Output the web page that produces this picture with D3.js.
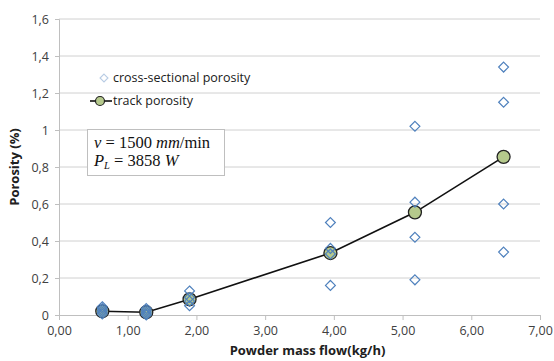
<!DOCTYPE html>
<html>
<head>
<meta charset="utf-8">
<script src="https://cdn.jsdelivr.net/npm/d3@7"></script>
<style>
  body { margin: 0; background: #fff; }
  svg { display: block; }
  .tick text { font-family: "Open Sans", sans-serif; font-size: 12.5px; fill: #404040; }
</style>
</head>
<body>
<div id="chart"></div>
<script>
// track porosity (mean per powder mass flow)
const flowRates = [0.63, 1.27, 1.90, 3.95, 5.18, 6.47];
const trackPorosity = [0.02, 0.015, 0.085, 0.335, 0.555, 0.855];

// cross-sectional porosity measurements, one list per flow rate
const crossPorosity = [
  [0.045, 0.035, 0.025, 0.015, 0.005],
  [0.035, 0.025, 0.015, 0.005, 0.0],
  [0.13, 0.095, 0.075, 0.05],
  [0.50, 0.36, 0.33, 0.16],
  [1.02, 0.61, 0.42, 0.19],
  [1.34, 1.15, 0.60, 0.34]
];

const yTicks = [0, 0.2, 0.4, 0.6, 0.8, 1, 1.2, 1.4, 1.6];
const xTicks = [0, 1, 2, 3, 4, 5, 6, 7];

const width = 554, height = 361;
const margin = { left: 59, right: 14, top: 19, bottom: 46 };

const svg = d3.select('#chart').append('svg')
  .attr('width', width)
  .attr('height', height);

const x = d3.scaleLinear().domain([0, 7]).range([margin.left, width - margin.right]);
const y = d3.scaleLinear().domain([0, 1.6]).range([height - margin.bottom, margin.top]);

const fmt = d => d3.format('.2f')(d).replace('.', ',');
const fmtY = d => (d === 1 ? '1' : d === 0 ? '0' : d3.format('.1f')(d).replace('.', ','));

// horizontal gridlines
svg.append('g')
  .selectAll('line')
  .data(yTicks.filter(d => d > 0))
  .join('line')
  .attr('x1', x(0)).attr('x2', x(7))
  .attr('y1', d => y(d)).attr('y2', d => y(d))
  .attr('stroke', '#d0d0d0')
  .attr('stroke-width', 1);

// y axis
const yAxis = svg.append('g')
  .attr('transform', `translate(${x(0)},0)`)
  .call(d3.axisLeft(y).tickValues(yTicks).tickFormat(fmtY).tickSize(4).tickPadding(6));
yAxis.select('.domain').attr('stroke', '#bfbfbf');
yAxis.selectAll('.tick line').attr('stroke', '#bfbfbf');

// x axis
const xAxis = svg.append('g')
  .attr('transform', `translate(0,${y(0)})`)
  .call(d3.axisBottom(x).tickValues(xTicks).tickFormat(fmt).tickSize(5).tickPadding(6));
xAxis.select('.domain').attr('stroke', '#bfbfbf');
xAxis.selectAll('.tick line').attr('stroke', '#bfbfbf');

// axis titles
svg.append('text')
  .attr('x', (x(0) + x(7)) / 2 + 8)
  .attr('y', 355)
  .attr('text-anchor', 'middle')
  .attr('font-family', '"Open Sans", sans-serif')
  .attr('font-weight', 'bold')
  .attr('font-size', 13)
  .attr('fill', '#202020')
  .text('Powder mass flow(kg/h)');

svg.append('text')
  .attr('transform', `translate(19,${y(0.8)}) rotate(-90)`)
  .attr('text-anchor', 'middle')
  .attr('font-family', '"Open Sans", sans-serif')
  .attr('font-weight', 'bold')
  .attr('font-size', 13)
  .attr('fill', '#202020')
  .text('Porosity (%)');

// track porosity line + markers
const line = d3.line().x((d, i) => x(flowRates[i])).y(d => y(d));
svg.append('path')
  .datum(trackPorosity)
  .attr('d', line)
  .attr('fill', 'none')
  .attr('stroke', '#111')
  .attr('stroke-width', 1.6);

svg.append('g')
  .selectAll('circle')
  .data(trackPorosity)
  .join('circle')
  .attr('cx', (d, i) => x(flowRates[i]))
  .attr('cy', d => y(d))
  .attr('r', 6.5)
  .attr('fill', '#b5c98c')
  .attr('stroke', '#222')
  .attr('stroke-width', 1.3);

// cross-sectional diamonds
const diamond = d3.symbol().type(d3.symbolDiamond2).size(62);
const pts = crossPorosity.flatMap((vals, i) => vals.map(v => ({ fx: flowRates[i], v })));
svg.append('g')
  .selectAll('path')
  .data(pts)
  .join('path')
  .attr('d', diamond)
  .attr('transform', d => `translate(${x(d.fx)},${y(d.v)})`)
  .attr('fill', 'none')
  .attr('stroke', '#4f81bd')
  .attr('stroke-width', 1.2);

// legend
const legend = svg.append('g');
legend.append('path')
  .attr('d', d3.symbol().type(d3.symbolDiamond2).size(40))
  .attr('transform', 'translate(104,78)')
  .attr('fill', 'none')
  .attr('stroke', '#b8cce4')
  .attr('stroke-width', 1.1);
legend.append('text')
  .attr('x', 113).attr('y', 82)
  .attr('font-family', '"Open Sans", sans-serif')
  .attr('font-size', 12.5)
  .attr('fill', '#202020')
  .text('cross-sectional porosity');
legend.append('line')
  .attr('x1', 90).attr('x2', 112)
  .attr('y1', 101).attr('y2', 101)
  .attr('stroke', '#111').attr('stroke-width', 1.6);
legend.append('circle')
  .attr('cx', 100).attr('cy', 101).attr('r', 4.5)
  .attr('fill', '#b5c98c').attr('stroke', '#222').attr('stroke-width', 1.2);
legend.append('text')
  .attr('x', 113).attr('y', 105)
  .attr('font-family', '"Open Sans", sans-serif')
  .attr('font-size', 12.5)
  .attr('fill', '#202020')
  .text('track porosity');

// parameter box
const box = svg.append('g');
box.append('rect')
  .attr('x', 87.5).attr('y', 129.5)
  .attr('width', 137).attr('height', 46)
  .attr('fill', '#fff')
  .attr('stroke', '#bfbfbf');
const t1 = box.append('text')
  .attr('x', 94).attr('y', 148)
  .attr('font-family', '"Liberation Serif", "DejaVu Serif", serif')
  .attr('font-size', 16.5)
  .attr('fill', '#111');
t1.append('tspan').attr('font-style', 'italic').text('v');
t1.append('tspan').text(' = 1500 ');
t1.append('tspan').attr('font-style', 'italic').text('mm');
t1.append('tspan').text('/min');
const t2 = box.append('text')
  .attr('x', 94).attr('y', 166)
  .attr('font-family', '"Liberation Serif", "DejaVu Serif", serif')
  .attr('font-size', 16.5)
  .attr('fill', '#111');
t2.append('tspan').attr('font-style', 'italic').text('P');
t2.append('tspan').attr('font-style', 'italic').attr('font-size', 10.5).attr('dy', 3).text('L');
t2.append('tspan').attr('dy', -3).text(' = 3858 ');
t2.append('tspan').attr('font-style', 'italic').text('W');
</script>
</body>
</html>
